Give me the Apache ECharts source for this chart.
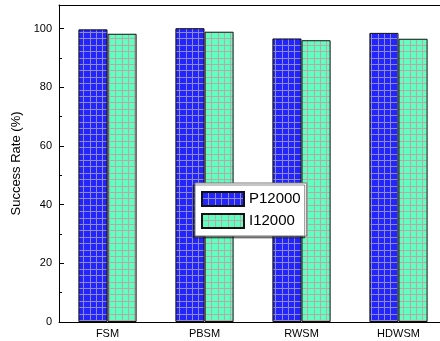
<!DOCTYPE html>
<html><head><meta charset="utf-8">
<script src="https://cdn.jsdelivr.net/npm/echarts@6/dist/echarts.min.js"></script>
<style>html,body{margin:0;padding:0;background:#fff;overflow:hidden;width:440px;height:341px}#c{width:447px;height:341px}</style>
</head><body><div id="c"></div>
<script>
const categories = ['FSM', 'PBSM', 'RWSM', 'HDWSM'];
const seriesNames = ['P12000', 'I12000'];
const p12000 = [99.7, 100.1, 96.6, 98.5];
const i12000 = [98.2, 98.9, 96.0, 96.5];
const yTicks = [0, 20, 40, 60, 80, 100];

function makePattern(bg, line) {
  const c = document.createElement('canvas');
  c.width = 32; c.height = 32;
  const g = c.getContext('2d');
  g.fillStyle = bg; g.fillRect(0, 0, 32, 32);
  g.fillStyle = line;
  [0, 6, 13, 19, 26].forEach(p => { g.fillRect(p, 0, 1, 32); g.fillRect(0, p, 32, 1); });
  return { image: c, repeat: 'repeat' };
}
const bluePat = makePattern('#2424ff', '#8c8cc8');
const greenPat = makePattern('#60ffbf', '#b8a8a8');

const chart = echarts.init(document.getElementById('c'), null, { renderer: 'canvas' });
chart.setOption({
  animation: false,
  textStyle: { fontFamily: 'Liberation Sans, Arial, sans-serif' },
  grid: { left: 59, top: 5, bottom: 19, right: 0, show: false },
  legend: {
    data: seriesNames,
    orient: 'vertical',
    left: 195, top: 183,
    itemWidth: 42, itemHeight: 14, itemGap: 6,
    padding: [8, 6, 7, 6],
    backgroundColor: '#fff',
    borderColor: '#777', borderWidth: 1,
    shadowColor: 'rgba(0,0,0,0.45)', shadowBlur: 0, shadowOffsetX: -2, shadowOffsetY: 2,
    textStyle: { fontSize: 15, color: '#000', fontFamily: 'Liberation Sans, Arial, sans-serif' },
    icon: 'rect'
  },
  xAxis: [{
    type: 'category', data: categories,
    axisLine: { lineStyle: { color: '#000', width: 1 } },
    axisTick: { inside: true, length: 4, lineStyle: { color: '#000' } },
    axisLabel: { fontSize: 11, color: '#000', margin: 6 },
    splitLine: { show: false }
  }, {
    type: 'category', data: categories, position: 'top',
    axisLine: { show: true, lineStyle: { color: '#000', width: 1 } },
    axisTick: { show: false }, axisLabel: { show: false }, splitLine: { show: false }
  }],
  yAxis: {
    type: 'value', min: 0, max: 108, interval: 20,
    name: 'Success Rate (%)', nameLocation: 'middle', nameGap: 36,
    nameTextStyle: { fontSize: 13, color: '#000' },
    axisLine: { show: true, lineStyle: { color: '#000', width: 1 } },
    axisTick: { show: true, inside: true, length: 5, lineStyle: { color: '#000' } },
    minorTick: { show: true, splitNumber: 2, length: 3, lineStyle: { color: '#000' } },
    axisLabel: { fontSize: 11, color: '#000', margin: 7, showMaxLabel: false,
      formatter: v => (yTicks.indexOf(v) >= 0 ? String(v) : '') },
    splitLine: { show: false }
  },
  series: [
    { name: seriesNames[0], type: 'bar', data: p12000, barWidth: '30%', barGap: '0%',
      itemStyle: { color: bluePat, borderColor: '#111', borderWidth: 1 } },
    { name: seriesNames[1], type: 'bar', data: i12000, barWidth: '30%', barGap: '0%',
      itemStyle: { color: greenPat, borderColor: '#111', borderWidth: 1 } }
  ]
});
</script></body></html>
